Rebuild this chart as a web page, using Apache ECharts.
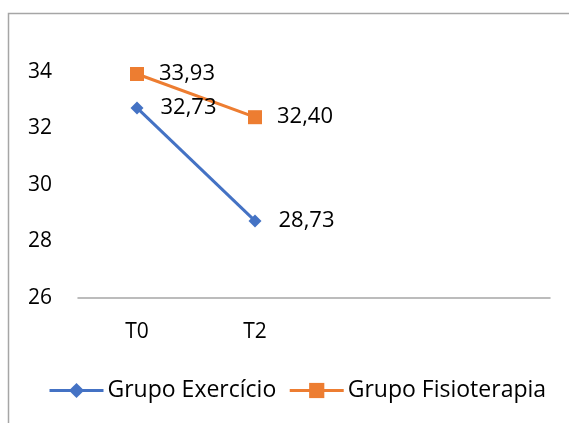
<!DOCTYPE html>
<html>
<head>
<meta charset="utf-8">
<script src="https://cdn.jsdelivr.net/npm/echarts@6/dist/echarts.min.js"></script>
<style>
  html, body { margin: 0; padding: 0; background: #fff; }
  #chart { width: 569px; height: 423px; }
</style>
</head>
<body>
<div id="chart"></div>
<script>
// Time points (two trailing empty slots keep the category spacing)
const categories = ['T0', 'T2', '', ''];
const grupoExercicio = [32.73, 28.73];
const grupoFisioterapia = [33.93, 32.40];
const yTicks = { min: 26, max: 34, interval: 2 };

const FONT = 'Open Sans';
const fmt = p => p.value.toFixed(2).replace('.', ',');

const chart = echarts.init(document.getElementById('chart'));
chart.setOption({
  animation: false,
  textStyle: { fontFamily: FONT },
  graphic: [{
    // chart-area frame: only its left and top edges fall inside the view
    type: 'polyline',
    shape: { points: [[8.5, 1000], [8.5, 13.5], [1000, 13.5]] },
    style: { fill: 'none', stroke: '#a6a6a6', lineWidth: 1.5 },
    silent: true
  }],
  grid: { left: 78, right: 19, top: 72, bottom: 125 },
  xAxis: {
    type: 'category',
    data: categories,
    boundaryGap: true,
    axisLine: { lineStyle: { color: '#a6a6a6', width: 1.5 } },
    axisTick: { show: false },
    axisLabel: { color: '#000', fontSize: 21, fontFamily: FONT, margin: 24 }
  },
  yAxis: {
    type: 'value',
    min: yTicks.min, max: yTicks.max, interval: yTicks.interval,
    axisLine: { show: false },
    axisTick: { show: false },
    splitLine: { show: false },
    axisLabel: { color: '#000', fontSize: 21, fontFamily: FONT, margin: 26 }
  },
  legend: {
    top: 374,
    left: 43,
    itemWidth: 54,
    itemHeight: 19,
    itemGap: 12,
    lineStyle: { width: 3 },
    textStyle: { color: '#000', fontSize: 23, fontFamily: FONT, padding: [0, 0, 0, -1] },
    data: ['Grupo Exercício', 'Grupo Fisioterapia']
  },
  series: [
    {
      name: 'Grupo Exercício',
      type: 'line',
      data: grupoExercicio,
      symbol: 'diamond',
      symbolSize: 13,
      itemStyle: { color: '#4472C4' },
      lineStyle: { color: '#4472C4', width: 3 },
      label: { show: true, position: 'right', distance: 17, color: '#000', fontSize: 22, fontFamily: FONT, formatter: fmt }
    },
    {
      name: 'Grupo Fisioterapia',
      type: 'line',
      data: grupoFisioterapia,
      symbol: 'rect',
      symbolSize: 14,
      itemStyle: { color: '#ED7D31' },
      lineStyle: { color: '#ED7D31', width: 3 },
      label: { show: true, position: 'right', distance: 15, color: '#000', fontSize: 22, fontFamily: FONT, formatter: fmt }
    }
  ]
});
</script>
</body>
</html>
